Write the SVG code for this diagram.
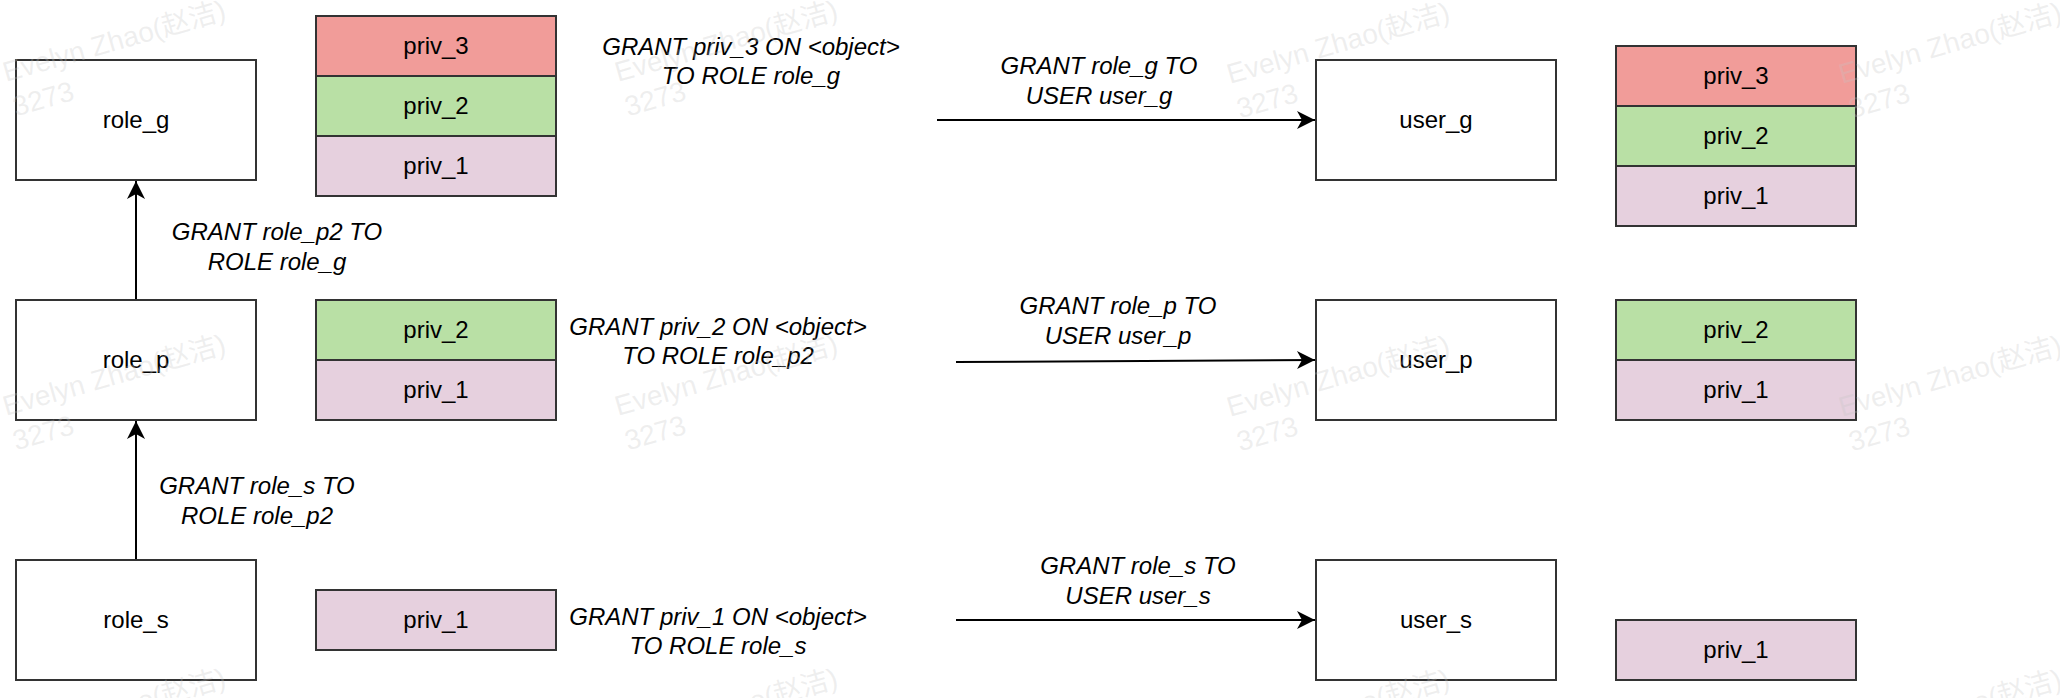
<svg xmlns="http://www.w3.org/2000/svg" width="2060" height="698" viewBox="0 0 2060 698">
<style>
.box{fill:#ffffff;stroke:#333333;stroke-width:2}
.p3{fill:#F19C99;stroke:#333333;stroke-width:2}
.p2{fill:#B9E0A5;stroke:#333333;stroke-width:2}
.p1{fill:#E6D0DE;stroke:#333333;stroke-width:2}
.t{font-family:"Liberation Sans",Arial,sans-serif;font-size:24px;fill:#000;text-anchor:middle}
.lbl{font-family:"Liberation Sans",Arial,sans-serif;font-size:24px;font-style:italic;fill:#000;text-anchor:middle}
.edge{fill:none;stroke:#000;stroke-width:2}
.wm{font-family:"Liberation Sans","Noto Sans CJK SC",sans-serif;font-size:28px;fill:#c4c4c4;fill-opacity:0.28}
</style>
<defs>
<marker id="arr" markerUnits="userSpaceOnUse" markerWidth="20" markerHeight="20" viewBox="-20 -10 20 20" refX="0" refY="0" orient="auto">
<path d="M0,0 L-18,-9 L-13,0 L-18,9 Z" fill="#000"/>
</marker>
<g id="wmk">
<text class="wm" x="0" y="0">Evelyn Zhao(赵洁)</text>
<text class="wm" x="0" y="36">3273</text>
</g>
</defs>
<rect width="2060" height="698" fill="#ffffff"/>

<g id="connectors">
<line class="edge" x1="136" y1="300" x2="136" y2="181" marker-end="url(#arr)"/>
<line class="edge" x1="136" y1="560" x2="136" y2="421" marker-end="url(#arr)"/>
<line class="edge" x1="937" y1="120" x2="1315" y2="120" marker-end="url(#arr)"/>
<line class="edge" x1="956" y1="362" x2="1315" y2="360" marker-end="url(#arr)"/>
<line class="edge" x1="956" y1="620" x2="1315" y2="620" marker-end="url(#arr)"/>
<text class="lbl" x="277" y="240">GRANT role_p2 TO</text>
<text class="lbl" x="277" y="270">ROLE role_g</text>
<text class="lbl" x="257" y="494">GRANT role_s TO</text>
<text class="lbl" x="257" y="524">ROLE role_p2</text>
<text class="lbl" x="751" y="55">GRANT priv_3 ON &lt;object&gt;</text>
<text class="lbl" x="751" y="84">TO ROLE role_g</text>
<text class="lbl" x="718" y="335">GRANT priv_2 ON &lt;object&gt;</text>
<text class="lbl" x="718" y="364">TO ROLE role_p2</text>
<text class="lbl" x="718" y="625">GRANT priv_1 ON &lt;object&gt;</text>
<text class="lbl" x="718" y="654">TO ROLE role_s</text>
<text class="lbl" x="1099" y="74">GRANT role_g TO</text>
<text class="lbl" x="1099" y="104">USER user_g</text>
<text class="lbl" x="1118" y="314">GRANT role_p TO</text>
<text class="lbl" x="1118" y="344">USER user_p</text>
<text class="lbl" x="1138" y="574">GRANT role_s TO</text>
<text class="lbl" x="1138" y="604">USER user_s</text>
</g>

<g id="role_g"><rect class="box" x="16" y="60" width="240" height="120"/><text class="t" x="136" y="128">role_g</text></g>
<g id="role_p"><rect class="box" x="16" y="300" width="240" height="120"/><text class="t" x="136" y="368">role_p</text></g>
<g id="role_s"><rect class="box" x="16" y="560" width="240" height="120"/><text class="t" x="136" y="628">role_s</text></g>

<g id="role_g_privs">
<rect class="p3" x="316" y="16" width="240" height="60"/><text class="t" x="436" y="54">priv_3</text>
<rect class="p2" x="316" y="76" width="240" height="60"/><text class="t" x="436" y="114">priv_2</text>
<rect class="p1" x="316" y="136" width="240" height="60"/><text class="t" x="436" y="174">priv_1</text>
</g>
<g id="role_p_privs">
<rect class="p2" x="316" y="300" width="240" height="60"/><text class="t" x="436" y="338">priv_2</text>
<rect class="p1" x="316" y="360" width="240" height="60"/><text class="t" x="436" y="398">priv_1</text>
</g>
<g id="role_s_privs">
<rect class="p1" x="316" y="590" width="240" height="60"/><text class="t" x="436" y="628">priv_1</text>
</g>

<g id="user_g"><rect class="box" x="1316" y="60" width="240" height="120"/><text class="t" x="1436" y="128">user_g</text></g>
<g id="user_p"><rect class="box" x="1316" y="300" width="240" height="120"/><text class="t" x="1436" y="368">user_p</text></g>
<g id="user_s"><rect class="box" x="1316" y="560" width="240" height="120"/><text class="t" x="1436" y="628">user_s</text></g>

<g id="user_g_privs">
<rect class="p3" x="1616" y="46" width="240" height="60"/><text class="t" x="1736" y="84">priv_3</text>
<rect class="p2" x="1616" y="106" width="240" height="60"/><text class="t" x="1736" y="144">priv_2</text>
<rect class="p1" x="1616" y="166" width="240" height="60"/><text class="t" x="1736" y="204">priv_1</text>
</g>
<g id="user_p_privs">
<rect class="p2" x="1616" y="300" width="240" height="60"/><text class="t" x="1736" y="338">priv_2</text>
<rect class="p1" x="1616" y="360" width="240" height="60"/><text class="t" x="1736" y="398">priv_1</text>
</g>
<g id="user_s_privs">
<rect class="p1" x="1616" y="620" width="240" height="60"/><text class="t" x="1736" y="658">priv_1</text>
</g>

<g id="watermark">
<use href="#wmk" transform="translate(6,82) rotate(-16)"/>
<use href="#wmk" transform="translate(618,82) rotate(-16)"/>
<use href="#wmk" transform="translate(1230,84) rotate(-16)"/>
<use href="#wmk" transform="translate(1842,84) rotate(-16)"/>
<use href="#wmk" transform="translate(6,416) rotate(-16)"/>
<use href="#wmk" transform="translate(618,416) rotate(-16)"/>
<use href="#wmk" transform="translate(1230,417) rotate(-16)"/>
<use href="#wmk" transform="translate(1842,417) rotate(-16)"/>
<use href="#wmk" transform="translate(6,750) rotate(-16)"/>
<use href="#wmk" transform="translate(618,750) rotate(-16)"/>
<use href="#wmk" transform="translate(1230,751) rotate(-16)"/>
<use href="#wmk" transform="translate(1842,751) rotate(-16)"/>
</g>
</svg>
